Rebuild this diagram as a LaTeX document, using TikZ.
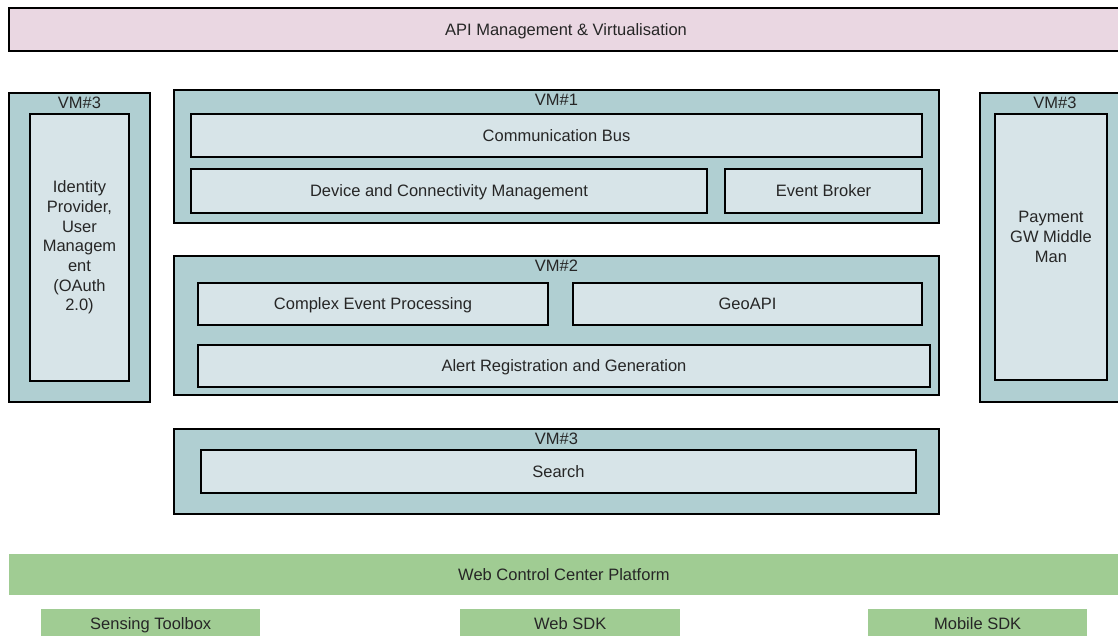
\documentclass[tikz,border=0pt]{standalone}
\usepackage{fontspec}
\setmainfont{Liberation Sans}
\definecolor{apipink}{HTML}{EAD7E2}
\definecolor{vmteal}{HTML}{B0CFD2}
\definecolor{svcfill}{HTML}{D7E4E8}
\definecolor{platgreen}{HTML}{A0CC93}
\definecolor{txt}{HTML}{262626}
\begin{document}
\begin{tikzpicture}[x=1pt,y=-1pt,
  every node/.style={font=\fontsize{16.5}{19.7}\selectfont, text=txt},
  oneline/.style={text height=11.8pt, text depth=0pt},
  band/.style={draw=black, line width=2pt, fill=apipink, anchor=north west, inner sep=0pt},
  vm/.style={draw=black, line width=2pt, fill=vmteal, anchor=north west, inner sep=0pt},
  svc/.style={draw=black, line width=2pt, fill=svcfill, anchor=north west, inner sep=0pt, align=center},
  plat/.style={fill=platgreen, anchor=north west, inner sep=0pt, oneline},
  vmlabel/.style={label={[anchor=north, inner sep=0pt, yshift=-5pt, text=txt]north:#1}}
]
\useasboundingbox (0,0) rectangle (1118,635);

% API layer
\node[band, minimum width=1120pt, minimum height=43pt] (api) at (8,7) {};
\node[oneline] at (api.center -| 566,0) {API Management \& Virtualisation};

% Left VM: identity
\node[vm, vmlabel={VM\#3}, minimum width=141pt, minimum height=309pt] (vmL) at (8,92) {};
\node[svc, minimum width=99pt, minimum height=267pt] (idp) at (29,113)
  {Identity\\Provider,\\User\\Managem\\ent\\(OAuth\\2.0)};

% Right VM: payment
\node[vm, vmlabel={VM\#3}, minimum width=150pt, minimum height=309pt] (vmR) at (979,92) {};
\node[svc, minimum width=112pt, minimum height=266pt] (pay) at (994,113) {};
\node[align=center] at ([yshift=10pt]pay.center) {Payment\\GW Middle\\Man};

% VM#1
\node[vm, vmlabel={VM\#1}, minimum width=765pt, minimum height=133pt] (vm1) at (173,89) {};
\node[svc, oneline, minimum width=731pt, minimum height=43pt] (bus) at (190,113) {Communication Bus};
\node[svc, oneline, minimum width=516pt, minimum height=44pt] (dev) at (190,168) {Device and Connectivity Management};
\node[svc, oneline, minimum width=197pt, minimum height=44pt] (broker) at (724,168) {Event Broker};

% VM#2
\node[vm, vmlabel={VM\#2}, minimum width=765pt, minimum height=139pt] (vm2) at (173,255) {};
\node[svc, oneline, minimum width=350pt, minimum height=42pt] (cep) at (197,282) {Complex Event Processing};
\node[svc, oneline, minimum width=349pt, minimum height=42pt] (geo) at (572,282) {GeoAPI};
\node[svc, oneline, minimum width=732pt, minimum height=42pt] (alert) at (197,344) {Alert Registration and Generation};

% VM#3 search
\node[vm, vmlabel={VM\#3}, minimum width=765pt, minimum height=85pt] (vm3) at (173,428) {};
\node[svc, oneline, minimum width=715pt, minimum height=43pt] (search) at (200,449) {Search};

% Platform and SDKs
\node[plat, minimum width=1112pt, minimum height=41pt] (wcc) at (9,554) {};
\node[oneline] at (wcc.center -| 564,0) {Web Control Center Platform};
\node[plat, minimum width=219pt, minimum height=28pt] (sense) at (41,609) {Sensing Toolbox};
\node[plat, minimum width=220pt, minimum height=28pt] (web) at (460,609) {Web SDK};
\node[plat, minimum width=219pt, minimum height=28pt] (mobile) at (868,609) {Mobile SDK};
\end{tikzpicture}
\end{document}
